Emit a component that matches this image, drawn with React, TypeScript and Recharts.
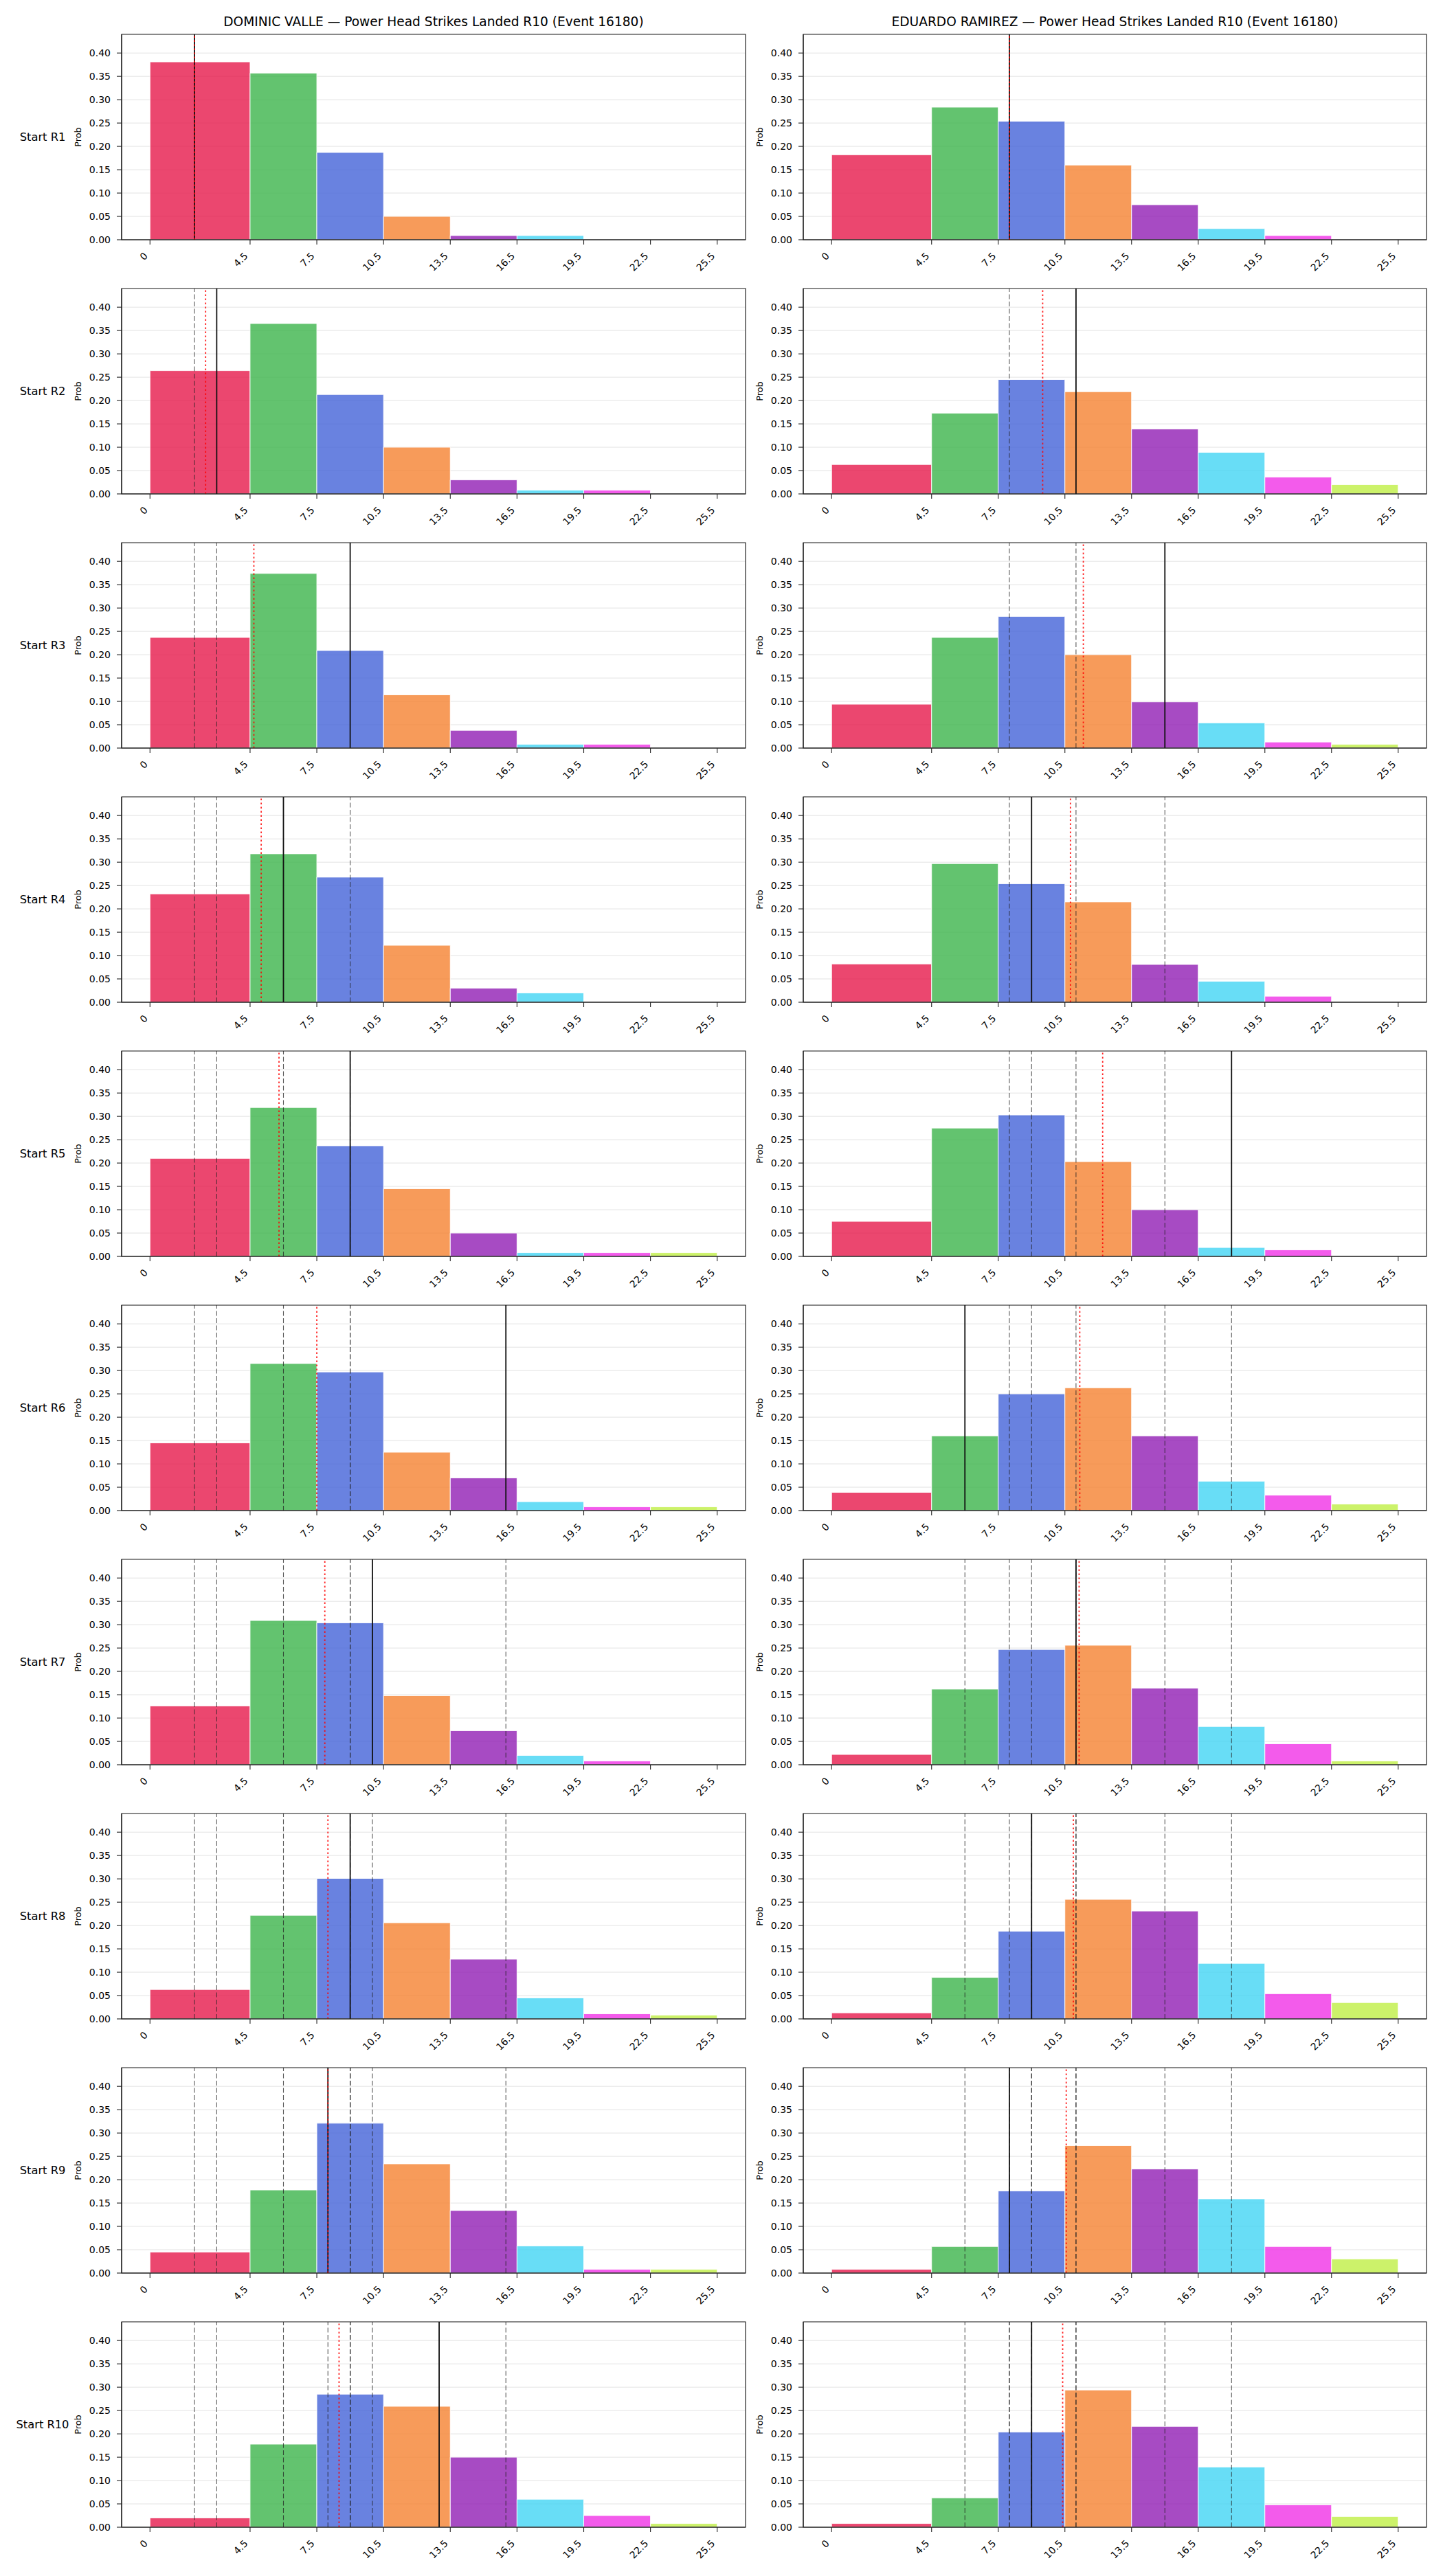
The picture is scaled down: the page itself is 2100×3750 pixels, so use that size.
import {
  ComposedChart,
  XAxis,
  YAxis,
  CartesianGrid,
  ReferenceArea,
  ReferenceLine,
} from 'recharts';

const FONT = '"DejaVu Sans", Verdana, sans-serif';
const INK = '#222';

// histogram bins: first bin is 0-4.5, then 3-wide bins
const BIN_EDGES = [0, 4.5, 7.5, 10.5, 13.5, 16.5, 19.5, 22.5, 25.5];
const BIN_COLORS = ['#e6194b', '#3cb44b', '#4363d8', '#f58231', '#911eb4', '#42d4f4', '#f032e6', '#bfef45'];
const Y_TICKS = [0, 0.05, 0.1, 0.15, 0.2, 0.25, 0.3, 0.35, 0.4];
const X_DOMAIN: [number, number] = [-1.275, 26.775];
const Y_DOMAIN: [number, number] = [0, 0.44];

const ROUNDS = ['R1', 'R2', 'R3', 'R4', 'R5', 'R6', 'R7', 'R8', 'R9', 'R10'];
const FIGHTERS = ['DOMINIC VALLE', 'EDUARDO RAMIREZ'];

// probability per bin, one row per starting round
const VALLE_PROBS = [
  [0.381, 0.357, 0.187, 0.05, 0.009, 0.009, 0, 0],
  [0.264, 0.365, 0.213, 0.1, 0.03, 0.008, 0.008, 0],
  [0.237, 0.374, 0.209, 0.114, 0.038, 0.008, 0.008, 0],
  [0.232, 0.318, 0.268, 0.122, 0.03, 0.02, 0, 0],
  [0.21, 0.319, 0.237, 0.145, 0.05, 0.008, 0.008, 0.008],
  [0.145, 0.315, 0.297, 0.125, 0.07, 0.019, 0.008, 0.008],
  [0.126, 0.309, 0.304, 0.148, 0.073, 0.02, 0.008, 0],
  [0.063, 0.222, 0.301, 0.206, 0.128, 0.045, 0.011, 0.008],
  [0.045, 0.178, 0.321, 0.234, 0.134, 0.058, 0.008, 0.008],
  [0.02, 0.178, 0.285, 0.259, 0.15, 0.06, 0.025, 0.008],
];
const RAMIREZ_PROBS = [
  [0.182, 0.284, 0.254, 0.16, 0.075, 0.024, 0.009, 0],
  [0.063, 0.173, 0.245, 0.219, 0.139, 0.089, 0.036, 0.02],
  [0.094, 0.237, 0.282, 0.2, 0.099, 0.054, 0.013, 0.008],
  [0.082, 0.297, 0.254, 0.215, 0.081, 0.045, 0.013, 0],
  [0.075, 0.275, 0.303, 0.203, 0.1, 0.019, 0.014, 0],
  [0.039, 0.16, 0.25, 0.263, 0.16, 0.063, 0.033, 0.014],
  [0.022, 0.162, 0.247, 0.256, 0.164, 0.082, 0.045, 0.008],
  [0.013, 0.089, 0.188, 0.256, 0.231, 0.119, 0.054, 0.035],
  [0.008, 0.057, 0.176, 0.273, 0.223, 0.159, 0.057, 0.03],
  [0.008, 0.063, 0.204, 0.294, 0.216, 0.129, 0.048, 0.023],
];

// landed strikes per round (solid line; earlier rounds shown dashed)
const VALLE_ACTUAL = [2, 3, 9, 6, 9, 16, 10, 9, 8, 13];
const RAMIREZ_ACTUAL = [8, 11, 15, 9, 18, 6, 11, 9, 8, 9];

// running average (red dotted line)
const VALLE_AVG = [2.0, 2.5, 4.67, 5.0, 5.8, 7.5, 7.86, 8.0, 8.0, 8.5];
const RAMIREZ_AVG = [8.0, 9.5, 11.33, 10.75, 12.2, 11.17, 11.14, 10.88, 10.56, 10.4];

const ROW_H = 370;
const CHART_H = 420;
const PLOT_TOP = 50;
const PLOT_H = 299;

const COLUMNS = [
  { left: 0, width: 1100, marginLeft: 117, marginRight: 15, plotLeft: 177, plotRight: 1085 },
  { left: 1060, width: 1040, marginLeft: 49, marginRight: 24, plotLeft: 1169, plotRight: 2076 },
];

const XTick = ({ x, y, payload }: any) => {
  const ax = x - 2.4;
  const ay = y + 17.5;
  return (
    <text
      x={ax}
      y={ay}
      transform={`rotate(-45 ${ax} ${ay})`}
      textAnchor="end"
      fontSize={14}
      fontFamily={FONT}
      fill="#000"
    >
      {payload.value}
    </text>
  );
};

const YTick = ({ x, y, payload }: any) => (
  <text x={x} y={y} dy="0.36em" textAnchor="end" fontSize={14} fontFamily={FONT} fill="#000">
    {Number(payload.value).toFixed(2)}
  </text>
);

interface PanelProps {
  col: number;
  row: number;
  probs: number[];
  actual: number[];
  avg: number[];
}

function Panel({ col, row, probs, actual, avg }: PanelProps) {
  const c = COLUMNS[col];
  const previous = actual.slice(0, row);
  return (
    <div style={{ position: 'absolute', left: c.left, top: row * ROW_H }}>
      <ComposedChart
        width={c.width}
        height={CHART_H}
        margin={{ top: PLOT_TOP, right: c.marginRight, bottom: 0, left: c.marginLeft }}
      >
        <CartesianGrid vertical={false} stroke="#e3e3e3" strokeWidth={1} />
        <XAxis
          type="number"
          dataKey="x"
          domain={X_DOMAIN}
          allowDataOverflow
          ticks={BIN_EDGES}
          interval={0}
          height={CHART_H - PLOT_TOP - PLOT_H}
          tickSize={7}
          tickMargin={0}
          tickLine={{ stroke: INK, strokeWidth: 1.1 }}
          axisLine={{ stroke: INK, strokeWidth: 1.2 }}
          tick={(p: any) => <XTick {...p} />}
        />
        <YAxis
          type="number"
          domain={Y_DOMAIN}
          allowDataOverflow
          ticks={Y_TICKS}
          interval={0}
          width={60}
          tickSize={7}
          tickMargin={9}
          tickLine={{ stroke: INK, strokeWidth: 1.1 }}
          axisLine={{ stroke: INK, strokeWidth: 1.2 }}
          tick={(p: any) => <YTick {...p} />}
        />
        {probs.map((p, i) =>
          p > 0 ? (
            <ReferenceArea
              key={`bin-${i}`}
              x1={BIN_EDGES[i]}
              x2={BIN_EDGES[i + 1]}
              y1={0}
              y2={p}
              fill={BIN_COLORS[i]}
              fillOpacity={0.8}
              stroke="#fff"
              strokeOpacity={0.9}
              strokeWidth={1}
            />
          ) : null,
        )}
        {previous.map((v, i) => (
          <ReferenceLine
            key={`prev-${i}`}
            x={v}
            stroke="#222"
            strokeOpacity={0.75}
            strokeWidth={1.1}
            strokeDasharray="7 3.5"
          />
        ))}
        <ReferenceLine x={actual[row]} stroke="#111" strokeWidth={1.8} />
        <ReferenceLine x={avg[row]} stroke="#ff0000" strokeOpacity={0.85} strokeWidth={1.8} strokeDasharray="2.5 3.5" />
        {/* axes frame */}
        <ReferenceArea
          x1={X_DOMAIN[0]}
          x2={X_DOMAIN[1]}
          y1={Y_DOMAIN[0]}
          y2={Y_DOMAIN[1]}
          ifOverflow="visible"
          fill="none"
          stroke={INK}
          strokeWidth={1.2}
        />
      </ComposedChart>
    </div>
  );
}

export default function App() {
  return (
    <div style={{ position: 'absolute', left: 0, top: 0, width: 2100, height: 3750, background: '#fff' }}>
      {ROUNDS.map((r, i) => (
        <Panel key={`v-${r}`} col={0} row={i} probs={VALLE_PROBS[i]} actual={VALLE_ACTUAL} avg={VALLE_AVG} />
      ))}
      {ROUNDS.map((r, i) => (
        <Panel key={`r-${r}`} col={1} row={i} probs={RAMIREZ_PROBS[i]} actual={RAMIREZ_ACTUAL} avg={RAMIREZ_AVG} />
      ))}
      <svg
        width={2100}
        height={3750}
        style={{ position: 'absolute', left: 0, top: 0, pointerEvents: 'none' }}
        fontFamily={FONT}
      >
        {FIGHTERS.map((name, i) => (
          <text
            key={name}
            x={(COLUMNS[i].plotLeft + COLUMNS[i].plotRight) / 2}
            y={37.5}
            textAnchor="middle"
            fontSize={18.6}
            fill="#000"
          >
            {`${name} — Power Head Strikes Landed R10 (Event 16180)`}
          </text>
        ))}
        {ROUNDS.map((r, i) => {
          const mid = i * ROW_H + PLOT_TOP + PLOT_H / 2;
          return (
            <g key={`lbl-${r}`}>
              <text x={62} y={mid + 5.6} textAnchor="middle" fontSize={16.3} fill="#000">
                {`Start ${r}`}
              </text>
              {COLUMNS.map((c, j) => (
                <text
                  key={j}
                  x={c.plotLeft - 58.7}
                  y={mid}
                  transform={`rotate(-90 ${c.plotLeft - 58.7} ${mid})`}
                  textAnchor="middle"
                  fontSize={12.9}
                  fill="#000"
                >
                  Prob
                </text>
              ))}
            </g>
          );
        })}
      </svg>
    </div>
  );
}
